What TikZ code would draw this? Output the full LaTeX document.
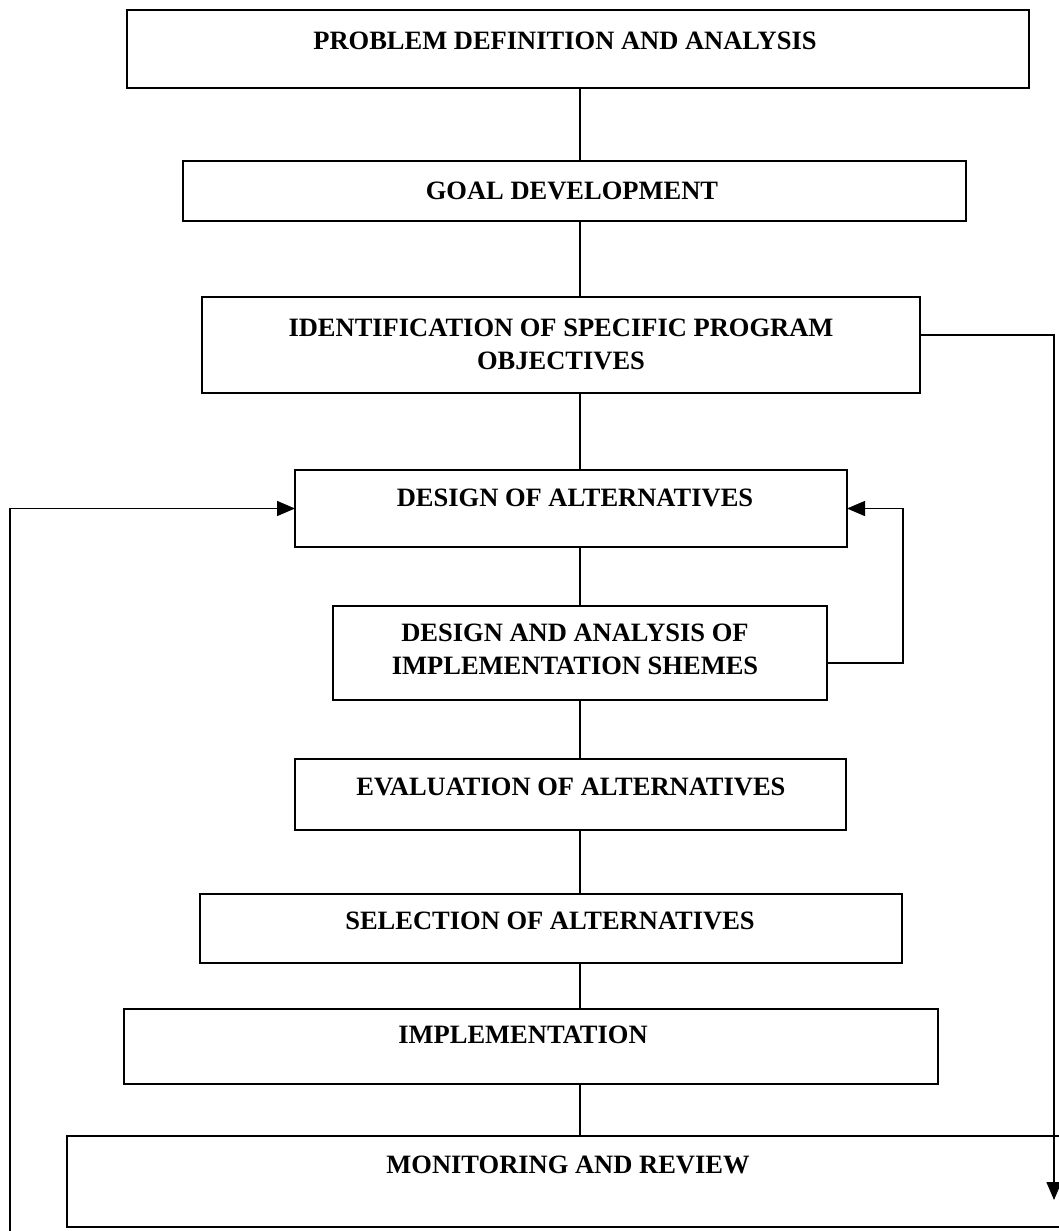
\documentclass[tikz,border=0pt]{standalone}
\usepackage{fontspec}
\setmainfont{Liberation Serif}
\usetikzlibrary{arrows.meta}
\begin{document}
\begin{tikzpicture}[x=1pt,y=-1pt,
  box/.style={draw, line width=1.4pt, inner sep=0pt, outer sep=0pt},
  txt/.style={font=\fontsize{26.5}{33}\selectfont\bfseries, align=center, inner sep=0pt},
  conn/.style={line width=1.4pt},
  arr/.style={-{Triangle[length=18pt,width=15pt]}}]
\useasboundingbox (0,0) rectangle (1059,1231);
\clip (0,0) rectangle (1059,1231);
\fill[white] (0,0) rectangle (1059,1231);
% boxes
\node[box, minimum width=902pt, minimum height=78pt] (b1) at (578,49) {};
\node[box, minimum width=783pt, minimum height=60pt] (b2) at (574.5,191) {};
\node[box, minimum width=718pt, minimum height=96pt] (b3) at (561,345) {};
\node[box, minimum width=552pt, minimum height=77pt] (b4) at (571,508.5) {};
\node[box, minimum width=494pt, minimum height=94pt] (b5) at (580,653) {};
\node[box, minimum width=551pt, minimum height=71pt] (b6) at (570.5,794.5) {};
\node[box, minimum width=702pt, minimum height=69pt] (b7) at (551,928.5) {};
\node[box, minimum width=814pt, minimum height=75pt] (b8) at (531,1046.5) {};
\node[box, minimum width=1008pt, minimum height=91pt] (b9) at (571,1181.5) {};
% texts
\node[txt] (t1) at (565,41) {PROBLEM DEFINITION AND ANALYSIS};
\node[txt] (t2) at (572,191) {GOAL DEVELOPMENT};
\node[txt] (t3) at (561,344) {IDENTIFICATION OF SPECIFIC PROGRAM\\OBJECTIVES};
\node[txt] (t4) at (575,498) {DESIGN OF ALTERNATIVES};
\node[txt] (t5) at (575,649) {DESIGN AND ANALYSIS OF\\IMPLEMENTATION SHEMES};
\node[txt] (t6) at (571,787) {EVALUATION OF ALTERNATIVES};
\node[txt] (t7) at (550,921) {SELECTION OF ALTERNATIVES};
\node[txt] (t8) at (523,1035) {IMPLEMENTATION};
\node[txt] (t9) at (568,1165) {MONITORING AND REVIEW};
% spine
\coordinate (spine) at (580,0);
\draw[conn] (b1.south -| spine) -- (b2.north -| spine);
\draw[conn] (b2.south -| spine) -- (b3.north -| spine);
\draw[conn] (b3.south -| spine) -- (b4.north -| spine);
\draw[conn] (b4.south -| spine) -- (b5.north -| spine);
\draw[conn] (b5.south -| spine) -- (b6.north -| spine);
\draw[conn] (b6.south -| spine) -- (b7.north -| spine);
\draw[conn] (b7.south -| spine) -- (b8.north -| spine);
\draw[conn] (b8.south -| spine) -- (b9.north -| spine);
% feedback loops
\draw[conn, arr] ([yshift=-10pt]b5.east) -- ++(76,0) |- (b4.east);
\coordinate (r9) at (1054,1200);
\draw[conn, arr] ([yshift=10pt]b3.east) -| (r9);
\coordinate (l9) at (10,1231);
\draw[conn, arr] (l9) |- (b4.west);
\end{tikzpicture}
\end{document}
